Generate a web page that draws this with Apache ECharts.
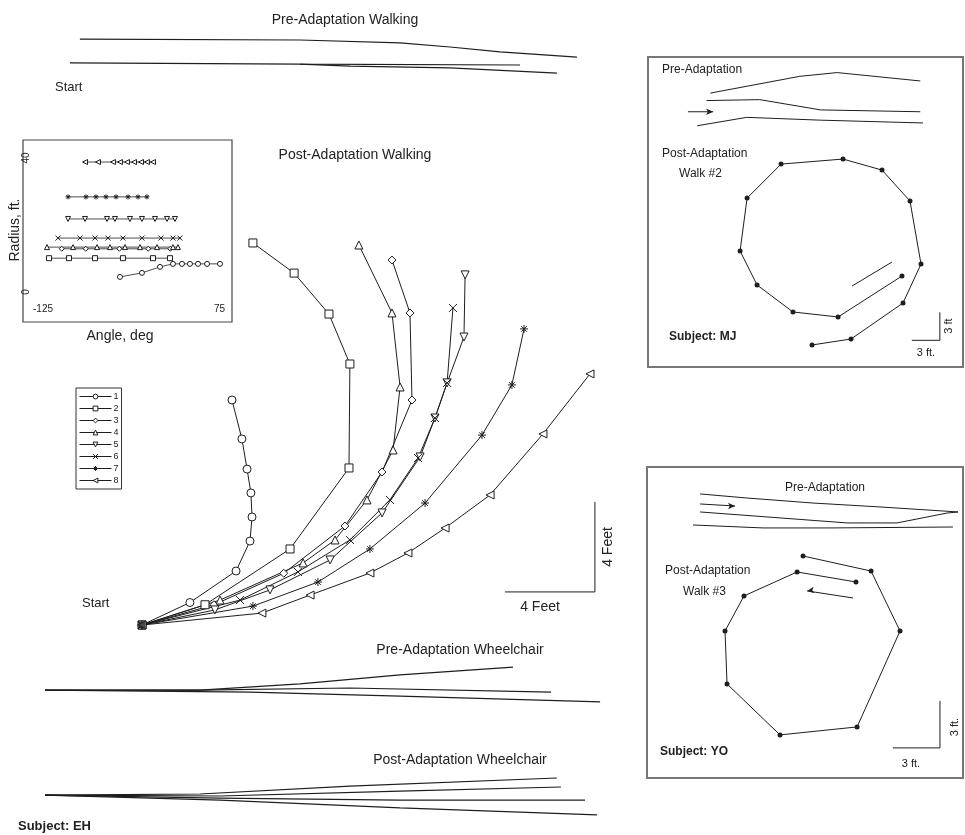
<!DOCTYPE html>
<html>
<head>
<meta charset="utf-8">
<script src="https://cdn.jsdelivr.net/npm/echarts@6/dist/echarts.min.js"></script>
<style>
  html, body { margin: 0; padding: 0; background: #fff; }
  #chart { width: 965px; height: 835px; }
</style>
</head>
<body>
<div id="chart"></div>
<script>
// ---- main panel (subject EH), feet from the start point ----
var trajNames = ['1', '2', '3', '4', '5', '6', '7', '8'];
var traj1 = [[0,0],[2.13,1.0],[4.18,2.4],[4.8,3.73],[4.89,4.8],[4.84,5.87],[4.67,6.93],[4.44,8.27],[4.0,10.0]];
var traj2 = [[0,0],[2.8,0.9],[6.58,3.38],[9.2,6.98],[9.24,11.6],[8.31,13.82],[6.76,15.64],[4.93,16.98]];
var traj3 = [[0,0],[3.2,0.9],[6.3,2.3],[9.02,4.4],[10.67,6.8],[12.0,10.0],[11.91,13.87],[11.11,16.22]];
var traj4 = [[0,0],[3.47,1.11],[7.16,2.76],[8.58,3.78],[10.0,5.56],[11.16,7.78],[11.47,10.58],[11.11,13.87],[9.64,16.89]];
var traj5 = [[0,0],[3.24,0.67],[5.69,1.56],[8.36,2.89],[10.67,4.98],[12.36,7.47],[13.02,9.2],[13.56,10.76],[14.31,12.8],[14.36,15.56]];
var traj6 = [[0,0],[4.36,1.11],[6.93,2.36],[9.24,3.78],[11.02,5.56],[12.27,7.42],[13.02,9.2],[13.56,10.76],[13.82,14.09]];
var traj7 = [[0,0],[4.93,0.84],[7.82,1.91],[10.13,3.38],[12.58,5.42],[15.11,8.44],[16.44,10.67],[16.98,13.16]];
var traj8 = [[0,0],[5.33,0.53],[7.47,1.33],[10.13,2.31],[11.82,3.2],[13.47,4.31],[15.47,5.78],[17.82,8.49],[19.91,11.16]];

var preWalk = [
  [[-2.76,26.04],[7.02,26.0],[11.47,25.87],[13.69,25.69],[15.91,25.47],[19.33,25.24]],
  [[-3.2,24.98],[7.02,24.93],[16.8,24.89]],
  [[7.02,24.93],[9.24,24.84],[13.69,24.76],[18.44,24.53]]
];
var preChair = [
  [[-4.31,-2.89],[2.58,-2.89],[7.02,-2.62],[11.47,-2.22],[16.49,-1.87]],
  [[-4.31,-2.89],[2.58,-2.89],[9.24,-2.8],[18.18,-2.98]],
  [[-4.31,-2.89],[4.8,-2.98],[11.47,-3.16],[20.36,-3.42]]
];
var postChair = [
  [[-4.31,-7.56],[2.58,-7.51],[9.24,-7.16],[18.44,-6.8]],
  [[-4.31,-7.56],[3.47,-7.6],[11.47,-7.38],[18.62,-7.2]],
  [[-4.31,-7.56],[3.47,-7.69],[11.47,-7.78],[19.69,-7.78]],
  [[-4.31,-7.56],[3.47,-7.78],[11.47,-8.13],[20.22,-8.44]]
];
var mainScale = [[16.13,1.47],[20.13,1.47],[20.13,5.47]];   // 4 ft bars

// ---- inset: radius (ft) against angle (deg) ----
var insetRadius = [4.5, 10.1, 12.9, 13.4, 21.8, 16.1, 28.4, 38.8];
var insetAngles = [
  [-34.4,-11.5,7.3,20.8,30.2,38.5,46.9,56.3,69.8],
  [-108.3,-87.5,-60.4,-31.3,0,17.7],
  [-95,-70,-35,-5,18],
  [-110.4,-83.3,-58.3,-44.8,-29.2,-13.5,4.2,20.8,26.0],
  [-88.5,-70.8,-47.9,-39.6,-24,-11.5,2.1,14.6,22.9],
  [-99,-76,-60.4,-46.9,-31.3,-11.5,8.3,20.8,28.1],
  [-88.5,-69.8,-59.4,-49,-38.5,-26,-15.6,-6.3],
  [-70.8,-57.3,-41.7,-34.4,-27.1,-19.8,-12.5,-6.3,0]
];
var insetRadius1 = [4.5,5.7,7.5,8.4,8.4,8.4,8.4,8.4,8.4]; // series 1 drifts outward
var angleTicks = [-125, 75];
var radiusTicks = [0, 40];

// ---- subject MJ ----
var mjPre = [
  [[-10.9,27.0],[-1.3,28.8],[2.7,29.2],[11.6,28.3]],
  [[-11.3,26.2],[-5.6,26.3],[0.9,25.2],[11.6,25.0]],
  [[-12.3,23.5],[-7.0,24.4],[0.9,24.1],[11.9,23.8]]
];
var mjArrow = [[-13.3,25.0],[-10.6,25.0]];
var mjWalk = [[0,0],[4.18,0.64],[9.75,4.5],[11.68,8.68],[10.5,15.43],[7.5,18.75],[3.32,19.93],[-3.32,19.39],
  [-6.96,15.75],[-7.71,10.07],[-5.89,6.43],[-2.04,3.54],[2.79,3.0],[9.64,7.39]];
var mjTail = [[8.57,8.89],[4.29,6.32]];
var mjScale = [[10.7,0.5],[13.7,0.5],[13.7,3.5]];

// ---- subject YO ----
var yoPre = [
  [[-6.57,3.96],[-3.57,3.70],[0.64,3.38],[4.91,3.13],[9.89,2.81]],
  [[-6.57,2.81],[-1.47,2.43],[2.81,2.11],[6.0,2.11],[9.19,2.74],[9.89,2.81]],
  [[-7.02,1.98],[-2.55,1.79],[1.72,1.79],[9.57,1.85]]
];
var yoArrow = [[-6.57,3.32],[-4.34,3.19]];
var yoWalk = [[0,0],[4.34,-0.96],[6.19,-4.79],[3.45,-10.91],[-1.47,-11.42],[-4.85,-8.17],[-4.98,-4.79],
  [-3.77,-2.55],[-0.38,-1.02],[3.38,-1.66]];
var yoTail = [[3.19,-2.68],[0.26,-2.23]];
var yoScale = [[5.74,-12.25],[8.74,-12.25],[8.74,-9.25]];

var INK = '#1e1e1e';
var FONT = 'Liberation Sans, Arial, sans-serif';
var symbols = ['circle', 'rect', 'diamond', 'triangle', 'triangle',
  'path://M0,0L10,10M10,0L0,10',
  'path://M5,0L5,10M0,5L10,5M1.5,1.5L8.5,8.5M8.5,1.5L1.5,8.5',
  'triangle'];
var rotations = [0, 0, 0, 0, 180, 0, 0, 90];
var trajData = [traj1, traj2, traj3, traj4, traj5, traj6, traj7, traj8];

var chart = echarts.init(document.getElementById('chart'));

function plain(data, xi, width) {
  return {
    type: 'line', data: data, xAxisIndex: xi, yAxisIndex: xi,
    symbol: 'none', silent: true, animation: false,
    lineStyle: { color: INK, width: width || 1 }
  };
}
function arrowLine(data, xi, rot) {
  var s = plain(data.map(function (p, i) {
    return i === data.length - 1 ? { value: p, symbol: 'arrow', symbolRotate: rot, symbolSize: [5, 7] } : { value: p };
  }), xi);
  s.itemStyle = { color: INK };
  return s;
}

var series = [];
trajNames.forEach(function (nm, i) {
  var mk = {
    type: 'line', name: nm, animation: false, silent: true,
    symbol: symbols[i], symbolRotate: rotations[i], showSymbol: true,
    lineStyle: { color: INK, width: 1 },
    itemStyle: { color: '#fff', borderColor: INK, borderWidth: 1 }
  };
  series.push(Object.assign({}, mk, { data: trajData[i], xAxisIndex: 0, yAxisIndex: 0, symbolSize: 8 }));
  var pts = insetAngles[i].map(function (a, k) {
    return [a, i === 0 ? insetRadius1[k] : insetRadius[i]];
  });
  series.push(Object.assign({}, mk, { data: pts, xAxisIndex: 1, yAxisIndex: 1, symbolSize: 5,
    lineStyle: { color: INK, width: 0.8 } }));
});
preWalk.concat(preChair, postChair).forEach(function (d) { series.push(plain(d, 0, 1.2)); });
series.push(plain(mainScale, 0, 1));

// start marker
series.push({ type: 'scatter', data: [[0, 0]], xAxisIndex: 0, yAxisIndex: 0, symbol: 'rect',
  symbolSize: 7, itemStyle: { color: INK }, silent: true, animation: false, z: 5 });

mjPre.forEach(function (d) { series.push(plain(d, 2)); });
series.push(arrowLine(mjArrow, 2, -90));
series.push({ type: 'line', data: mjWalk, xAxisIndex: 2, yAxisIndex: 2, symbol: 'circle', symbolSize: 5,
  lineStyle: { color: INK, width: 1 }, itemStyle: { color: INK }, silent: true, animation: false });
series.push(plain(mjTail, 2));
series.push(plain(mjScale, 2));

yoPre.forEach(function (d) { series.push(plain(d, 3)); });
series.push(arrowLine(yoArrow, 3, -90));
series.push({ type: 'line', data: yoWalk, xAxisIndex: 3, yAxisIndex: 3, symbol: 'circle', symbolSize: 5,
  lineStyle: { color: INK, width: 1 }, itemStyle: { color: INK }, silent: true, animation: false });
series.push(arrowLine(yoTail, 3, 98));
series.push(plain(yoScale, 3));

function hiddenAxis(gi, min, max) {
  return { gridIndex: gi, type: 'value', min: min, max: max, show: false };
}

function txt(text, x, y, size, opts) {
  opts = opts || {};
  return {
    type: 'text', x: x, y: y, rotation: opts.rot || 0, silent: true, z: 10,
    style: {
      text: text, fontSize: size, fontFamily: FONT, fontWeight: opts.bold ? 'bold' : 'normal',
      fill: '#222', align: opts.align || 'center', verticalAlign: 'middle'
    }
  };
}

chart.setOption({
  backgroundColor: '#fff',
  animation: false,
  grid: [
    { left: 0, top: 0, width: 965, height: 835 },
    { left: 33, top: 158, width: 192, height: 134 },
    { left: 648, top: 57, width: 315, height: 310, show: true, borderColor: '#777', borderWidth: 2 },
    { left: 647, top: 467, width: 316, height: 311, show: true, borderColor: '#777', borderWidth: 2 }
  ],
  xAxis: [
    hiddenAxis(0, -6.311, 36.578),
    {
      gridIndex: 1, type: 'value', min: -125, max: 75, interval: 25,
      axisLine: { show: false }, axisTick: { show: false }, splitLine: { show: false },
      axisLabel: {
        margin: 12, fontSize: 10, fontFamily: FONT, color: '#222',
        showMinLabel: true, showMaxLabel: true, alignMinLabel: 'left', alignMaxLabel: 'right',
        formatter: function (v) { return angleTicks.indexOf(v) >= 0 ? String(v) : ''; }
      }
    },
    hiddenAxis(2, -17.58, 16.18),
    hiddenAxis(3, -9.96, 10.21)
  ],
  yAxis: [
    hiddenAxis(0, -9.333, 27.778),
    {
      gridIndex: 1, type: 'value', min: 0, max: 40, interval: 40,
      axisLine: { show: false }, axisTick: { show: false }, splitLine: { show: false },
      axisLabel: {
        margin: 2, fontSize: 10, fontFamily: FONT, color: '#222', rotate: 90,
        formatter: function (v) { return radiusTicks.indexOf(v) >= 0 ? String(v) : ''; }
      }
    },
    hiddenAxis(2, -2.36, 30.87),
    hiddenAxis(3, -14.17, 5.68)
  ],
  legend: {
    data: trajNames, orient: 'vertical', left: 76, top: 388,
    itemWidth: 32, itemHeight: 6, itemGap: 3, padding: [4, 3, 4, 3],
    borderColor: '#333', borderWidth: 1, selectedMode: false,
    itemStyle: { color: '#fff', borderColor: INK, borderWidth: 1 },
    lineStyle: { color: INK, width: 1 },
    textStyle: { fontSize: 9, fontFamily: FONT, color: '#222', padding: [0, 0, 0, -3] }
  },
  graphic: [
    { type: 'rect', shape: { x: 23, y: 140, width: 209, height: 182 }, silent: true,
      style: { fill: 'none', stroke: '#444', lineWidth: 1.2 } },
    txt('Pre-Adaptation Walking', 345, 20, 14),
    txt('Start', 55, 87, 13, { align: 'left' }),
    txt('Post-Adaptation Walking', 355, 155, 14),
    txt('Radius, ft.', 15, 230, 14, { rot: Math.PI / 2 }),
    txt('Angle, deg', 120, 336, 14),
    txt('Start', 82, 603, 13, { align: 'left' }),
    txt('4 Feet', 540, 607, 14),
    txt('4 Feet', 608, 547, 14, { rot: Math.PI / 2 }),
    txt('Pre-Adaptation Wheelchair', 460, 650, 14),
    txt('Post-Adaptation Wheelchair', 460, 760, 14),
    txt('Subject: EH', 18, 826, 13, { align: 'left', bold: true }),
    txt('Pre-Adaptation', 662, 70, 12, { align: 'left' }),
    txt('Post-Adaptation', 662, 154, 12, { align: 'left' }),
    txt('Walk #2', 679, 174, 12, { align: 'left' }),
    txt('Subject: MJ', 669, 337, 12, { align: 'left', bold: true }),
    txt('3 ft.', 926, 353, 11),
    txt('3 ft', 949, 326, 11, { rot: Math.PI / 2 }),
    txt('Pre-Adaptation', 825, 488, 12),
    txt('Post-Adaptation', 665, 571, 12, { align: 'left' }),
    txt('Walk #3', 683, 592, 12, { align: 'left' }),
    txt('Subject: YO', 660, 752, 12, { align: 'left', bold: true }),
    txt('3 ft.', 911, 764, 11),
    txt('3 ft.', 955, 727, 11, { rot: Math.PI / 2 })
  ],
  series: series
});
</script>
</body>
</html>
